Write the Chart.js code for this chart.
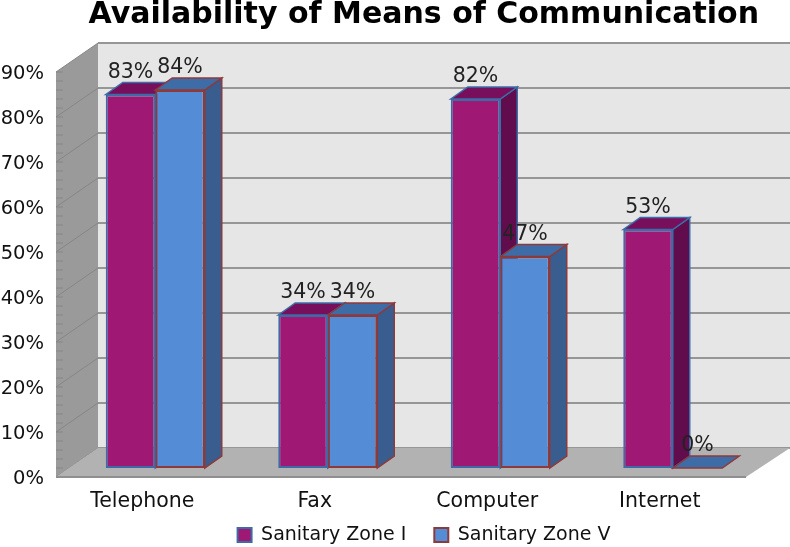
<!DOCTYPE html>
<html><head><meta charset="utf-8">
<style>html,body{margin:0;padding:0;background:#fff}#w{width:790px;height:547px;position:relative}</style>
<script src="https://cdn.jsdelivr.net/npm/chart.js@4"></script>
</head><body><div id="w"><canvas id="c" width="790" height="547"></canvas></div>
<script>
const categories = ['Telephone', 'Fax', 'Computer', 'Internet'];
const zoneI = [83, 34, 82, 53];
const zoneV = [84, 34, 47, 0];
const tickValues = [0, 10, 20, 30, 40, 50, 60, 70, 80, 90];
const seriesNames = ['Sanitary Zone I', 'Sanitary Zone V'];
const titleText = 'Availability of Means of Communication';

const FONT = '"DejaVu Sans"';
const PURPLE = '#9e1874', BLUE = '#548cd6';
const FR = {dx: -13, dy: 9}, BK = {dx: 29, dy: -20}, BAR = {dx: 17, dy: -12};
function poly(ctx, pts, fill, stroke, lw) {
  ctx.beginPath();
  pts.forEach((p, i) => i ? ctx.lineTo(p[0], p[1]) : ctx.moveTo(p[0], p[1]));
  ctx.closePath();
  ctx.fillStyle = fill; ctx.fill();
  if (stroke) { ctx.strokeStyle = stroke; ctx.lineWidth = lw || 1; ctx.stroke(); }
}
const scene = {
  id: 'scene',
  afterLayout(chart) {
    const lg = chart.legend;
    lg.top -= 17.5; lg.left += 44.5; lg.right += 44.5;
  },
  beforeDatasetsDraw(chart) {
    const ctx = chart.ctx, y = chart.scales.y, a = chart.chartArea;
    const L = a.left, R = a.right, T = y.getPixelForValue(90), B = y.getPixelForValue(0), W = chart.width;
    ctx.save();
    poly(ctx, [[L+BK.dx,T+BK.dy],[W,T+BK.dy],[W,B+BK.dy],[L+BK.dx,B+BK.dy]], '#e6e6e6');
    poly(ctx, [[L+FR.dx,T+FR.dy],[L+BK.dx,T+BK.dy],[L+BK.dx,B+BK.dy],[L+FR.dx,B+FR.dy]], '#9a9a9a');
    ctx.strokeStyle = '#868686'; ctx.lineWidth = 1;
    for (let v = 0; v <= 90; v += 2) {
      const p = y.getPixelForValue(v);
      ctx.beginPath(); ctx.moveTo(L+FR.dx, p+FR.dy); ctx.lineTo(L+FR.dx+7, p+FR.dy); ctx.stroke();
    }
    tickValues.forEach(v => {
      const p = y.getPixelForValue(v);
      ctx.strokeStyle = '#969696'; ctx.lineWidth = 2;
      ctx.beginPath(); ctx.moveTo(L+BK.dx, p+BK.dy); ctx.lineTo(W, p+BK.dy); ctx.stroke();
      ctx.strokeStyle = '#868686'; ctx.lineWidth = 1;
      ctx.beginPath(); ctx.moveTo(L+FR.dx, p+FR.dy); ctx.lineTo(L+BK.dx, p+BK.dy); ctx.stroke();
    });
    poly(ctx, [[L+FR.dx,B+FR.dy],[L+BK.dx,B+BK.dy],[W,B+BK.dy],[R+FR.dx,B+FR.dy]], '#b2b2b2');
    ctx.strokeStyle = '#8f8f8f'; ctx.lineWidth = 2;
    ctx.beginPath(); ctx.moveTo(L+FR.dx, B+FR.dy); ctx.lineTo(R+FR.dx, B+FR.dy); ctx.stroke();
    const sides = [['#610d4d', '#770f5d', '#3b6ea8'], ['#385d8e', '#3e6ca6', '#8e3a3a']];
    chart.data.datasets.forEach((ds, i) => {
      chart.getDatasetMeta(i).data.forEach(b => {
        const l = b.x - b.width/2, r = b.x + b.width/2, t = b.y, bt = b.base, c = sides[i];
        if (bt - t > 1) poly(ctx, [[r,t],[r+BAR.dx,t+BAR.dy],[r+BAR.dx,bt+BAR.dy],[r,bt]], c[0], c[2], 1.5);
        poly(ctx, [[l,t],[l+BAR.dx,t+BAR.dy],[r+BAR.dx,t+BAR.dy],[r,t]], c[1], c[2], 1.5);
      });
    });
    ctx.restore();
  },
  afterDatasetsDraw(chart) {
    const ctx = chart.ctx;
    ctx.save();
    ctx.font = '20.5px ' + FONT; ctx.textAlign = 'center'; ctx.textBaseline = 'middle'; ctx.fillStyle = '#222';
    chart.data.datasets.forEach((ds, i) => {
      chart.getDatasetMeta(i).data.forEach((b, j) => {
        ctx.fillText(ds.data[j] + '%', b.x, b.y - 22);
      });
    });
    ctx.restore();
  }
};
new Chart(document.getElementById('c'), {
  type: 'bar',
  data: {
    labels: categories,
    datasets: [
      {label: seriesNames[0], data: zoneI, backgroundColor: PURPLE, borderColor: '#3f6aa5', borderWidth: 2, borderSkipped: false},
      {label: seriesNames[1], data: zoneV, backgroundColor: BLUE, borderColor: '#8e3a3a', borderWidth: 2, borderSkipped: false}
    ]
  },
  plugins: [scene],
  options: {
    responsive: false, animation: false,
    layout: {padding: {left: 0, right: 31, top: 0, bottom: -25}},
    categoryPercentage: 0.574, barPercentage: 1,
    scales: {
      x: {
        grid: {display: false}, border: {display: false},
        ticks: {labelOffset: -13, padding: 13, maxRotation: 0, color: '#111', font: {family: FONT, size: 20.5}},
        afterFit(s) { s.height = 47; }
      },
      y: {
        min: 0, max: 90,
        grid: {display: false}, border: {display: false},
        afterBuildTicks(s) { s.ticks = tickValues.map(v => ({value: v})); },
        afterFit(s) { s.width = 69; },
        ticks: {labelOffset: 11, padding: 17, color: '#111', font: {family: FONT, size: 19.5}, callback: v => v + '%'}
      }
    },
    plugins: {
      tooltip: {enabled: false},
      title: {display: true, align: 'end', text: titleText, color: '#000', font: {family: FONT, size: 30, weight: 'bold'}, padding: {top: -3, bottom: 30}},
      legend: {
        position: 'bottom',
        labels: {boxWidth: 14, boxHeight: 14, padding: 28, color: '#111', font: {family: FONT, size: 19}}
      }
    }
  }
});
</script></body></html>
